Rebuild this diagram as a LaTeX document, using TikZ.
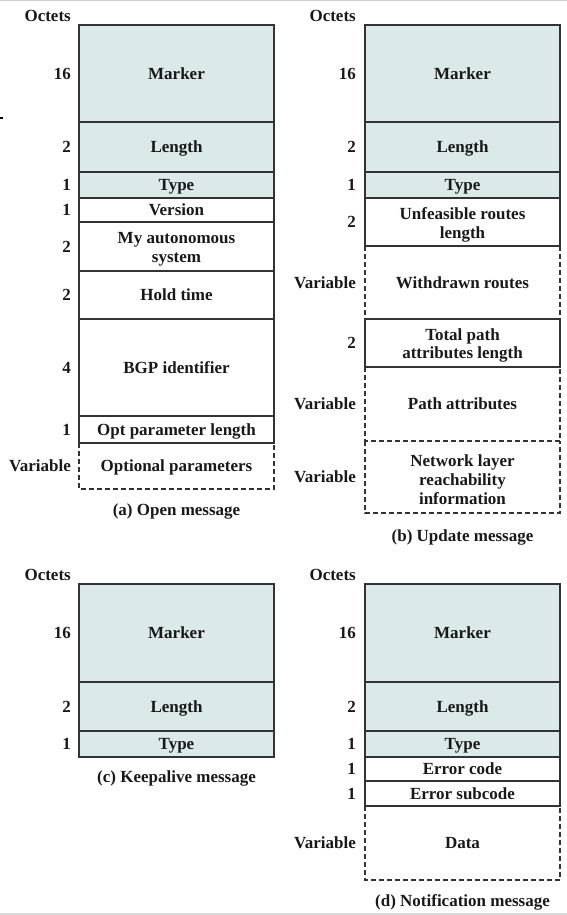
\documentclass[tikz,border=0pt]{standalone}
\usepackage{fontspec}
\setmainfont{Liberation Serif}
\begin{document}
\begin{tikzpicture}[x=1pt,y=-1pt,
  every node/.style={font=\fontsize{17}{18.8}\selectfont\bfseries, inner sep=0pt, text=black!90},
  lbl/.style={align=center, text height=14.7pt, text depth=3.5pt},
  mlbl/.style={align=center, yshift=-2.5pt},
  oct/.style={anchor=east},
  box/.style={draw=black!80, line width=1.7pt},
  hdr/.style={box, fill=hdrfill},
  dsh/.style={draw=black!80, line width=1.5pt, dash pattern=on 5pt off 3pt},
  captxt/.style={anchor=center, yshift=-1.5pt}]
\definecolor{hdrfill}{HTML}{DBE9E9}
\useasboundingbox (0,0) rectangle (567,915);
\fill[black!18] (0,0) rectangle (567,1.5);
\fill[black!15] (0,913) rectangle (567,915);
\fill[black] (0,117) rectangle (3,119.5);

% ---------- (a) Open message ----------
\node[oct] (aoct) at (71,16) {Octets};
\draw[hdr] (79,25) rectangle (274,122);
\node[lbl] (amarker) at (176.5,73.5) {Marker};
\node[oct] (amarkern) at (71,73.5) {16};
\draw[hdr] (79,122) rectangle (274,172);
\node[lbl] (alength) at (176.5,147) {Length};
\node[oct] (alengthn) at (71,147) {2};
\draw[hdr] (79,172) rectangle (274,198);
\node[lbl] (atype) at (176.5,185) {Type};
\node[oct] (atypen) at (71,185) {1};
\draw[box] (79,198) rectangle (274,222);
\node[lbl] (aversion) at (176.5,210) {Version};
\node[oct] (aversionn) at (71,210) {1};
\draw[box] (79,222) rectangle (274,271);
\node[mlbl] (aas) at (176.5,246.5) {My autonomous\\system};
\node[oct] (aasn) at (71,246.5) {2};
\draw[box] (79,271) rectangle (274,319);
\node[lbl] (ahold) at (176.5,295) {Hold time};
\node[oct] (aholdn) at (71,295) {2};
\draw[box] (79,319) rectangle (274,416);
\node[lbl] (abgp) at (176.5,367.5) {BGP identifier};
\node[oct] (abgpn) at (71,367.5) {4};
\draw[box] (79,416) rectangle (274,443);
\node[lbl] (aopl) at (176.5,429.5) {Opt parameter length};
\node[oct] (aopln) at (71,429.5) {1};
\draw[dsh] (79,443) -- (79,489) -- (274,489) -- (274,443);
\node[lbl] (aopt) at (176.5,466) {Optional parameters};
\node[oct] (aoptn) at (71,466) {Variable};
\node[captxt] (acap) at (176.5,510) {(a) Open message};

% ---------- (b) Update message ----------
\node[oct] (boct) at (356,16) {Octets};
\draw[hdr] (365,25) rectangle (560,122);
\node[lbl] (bmarker) at (462.5,73.5) {Marker};
\node[oct] (bmarkern) at (356,73.5) {16};
\draw[hdr] (365,122) rectangle (560,172);
\node[lbl] (blength) at (462.5,147) {Length};
\node[oct] (blengthn) at (356,147) {2};
\draw[hdr] (365,172) rectangle (560,198);
\node[lbl] (btype) at (462.5,185) {Type};
\node[oct] (btypen) at (356,185) {1};
\draw[box] (365,198) rectangle (560,246);
\node[mlbl] (bunf) at (462.5,222) {Unfeasible routes\\length};
\node[oct] (bunfn) at (356,222) {2};
\draw[dsh] (365,246) -- (365,319);
\draw[dsh] (560,246) -- (560,319);
\node[lbl] (bwd) at (462.5,282.5) {Withdrawn routes};
\node[oct] (bwdn) at (356,282.5) {Variable};
\draw[box] (365,319) rectangle (560,367);
\node[mlbl] (btpa) at (462.5,343) {Total path\\attributes length};
\node[oct] (btpan) at (356,343) {2};
\draw[dsh] (365,367) -- (365,441) -- (560,441) -- (560,367);
\node[lbl] (bpa) at (462.5,404) {Path attributes};
\node[oct] (bpan) at (356,404) {Variable};
\draw[dsh] (365,441) -- (365,513) -- (560,513) -- (560,441);
\node[mlbl] (bnlri) at (462.5,477) {Network layer\\reachability\\information};
\node[oct] (bnlrin) at (356,477) {Variable};
\node[captxt] (bcap) at (462.5,536) {(b) Update message};

% ---------- (c) Keepalive message ----------
\node[oct] (coct) at (71,575) {Octets};
\draw[hdr] (79,584) rectangle (274,682);
\node[lbl] (cmarker) at (176.5,633) {Marker};
\node[oct] (cmarkern) at (71,633) {16};
\draw[hdr] (79,682) rectangle (274,731);
\node[lbl] (clength) at (176.5,706.5) {Length};
\node[oct] (clengthn) at (71,706.5) {2};
\draw[hdr] (79,731) rectangle (274,757);
\node[lbl] (ctype) at (176.5,744) {Type};
\node[oct] (ctypen) at (71,744) {1};
\node[captxt] (ccap) at (176.5,777) {(c) Keepalive message};

% ---------- (d) Notification message ----------
\node[oct] (doct) at (356,575) {Octets};
\draw[hdr] (365,584) rectangle (560,682);
\node[lbl] (dmarker) at (462.5,633) {Marker};
\node[oct] (dmarkern) at (356,633) {16};
\draw[hdr] (365,682) rectangle (560,731);
\node[lbl] (dlength) at (462.5,706.5) {Length};
\node[oct] (dlengthn) at (356,706.5) {2};
\draw[hdr] (365,731) rectangle (560,757);
\node[lbl] (dtype) at (462.5,744) {Type};
\node[oct] (dtypen) at (356,744) {1};
\draw[box] (365,757) rectangle (560,781);
\node[lbl] (dec) at (462.5,769) {Error code};
\node[oct] (decn) at (356,769) {1};
\draw[box] (365,781) rectangle (560,806);
\node[lbl] (desc) at (462.5,793.5) {Error subcode};
\node[oct] (descn) at (356,793.5) {1};
\draw[dsh] (365,806) -- (365,880) -- (560,880) -- (560,806);
\node[lbl] (ddata) at (462.5,843) {Data};
\node[oct] (ddatan) at (356,843) {Variable};
\node[captxt] (dcap) at (462.5,901) {(d) Notification message};
\end{tikzpicture}
\end{document}
